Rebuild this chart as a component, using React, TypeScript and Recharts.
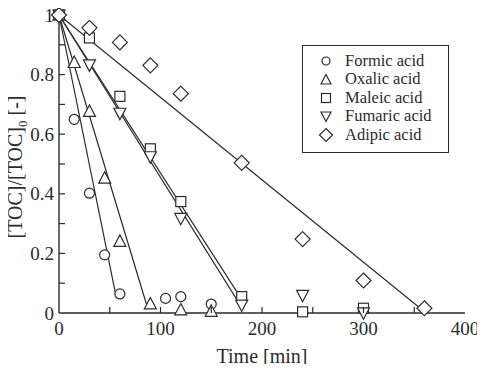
import { Legend, Scatter, ScatterChart, XAxis, YAxis } from 'recharts'

// measured points, time [min] vs TOC/TOC0
const seriesNames = ['Formic acid', 'Oxalic acid', 'Maleic acid', 'Fumaric acid', 'Adipic acid']

const formicTime = [0, 15, 30, 45, 60, 105, 120, 150]
const formicToc = [1, 0.65, 0.402, 0.195, 0.064, 0.049, 0.055, 0.03]

const oxalicTime = [0, 15, 30, 45, 60, 90, 120, 150]
const oxalicToc = [1, 0.84, 0.676, 0.452, 0.24, 0.03, 0.01, 0.005]

const maleicTime = [0, 30, 60, 90, 120, 180, 240, 300]
const maleicToc = [1, 0.923, 0.727, 0.551, 0.374, 0.055, 0.004, 0.016]

const fumaricTime = [0, 30, 60, 90, 120, 180, 240, 300]
const fumaricToc = [1, 0.833, 0.671, 0.525, 0.318, 0.027, 0.06, 0.001]

const adipicTime = [0, 30, 60, 90, 120, 180, 240, 300, 360]
const adipicToc = [1, 0.957, 0.908, 0.831, 0.736, 0.504, 0.248, 0.109, 0.016]

// straight fitted lines (start / end)
const formicFitTime = [0, 56]
const formicFitToc = [1, 0.06]
const oxalicFitTime = [0, 87]
const oxalicFitToc = [1, 0.02]
const maleicFitTime = [0, 183]
const maleicFitToc = [1, 0.03]
const fumaricFitTime = [0, 178]
const fumaricFitToc = [1, 0.03]
const adipicFitTime = [0, 358]
const adipicFitToc = [1, 0.01]

const xTicks = [0, 50, 100, 150, 200, 250, 300, 350, 400]
const yTicks = [0, 0.1, 0.2, 0.3, 0.4, 0.5, 0.6, 0.7, 0.8, 0.9, 1]

const toPoints = (xs: number[], ys: number[]) => xs.map((x, i) => ({ x, y: ys[i] }))

const INK = '#2b2b2b'
const FONT = 'Liberation Serif, Times New Roman, serif'

// marker shapes
const circle = (cx: number, cy: number, s: number) => <circle cx={cx} cy={cy} r={s / 2} fill='#fff' stroke={INK} strokeWidth={1.2} />
const triUp = (cx: number, cy: number, s: number) => (
	<path d={`M${cx},${cy - s * 0.55} L${cx + s / 2},${cy + s * 0.4} L${cx - s / 2},${cy + s * 0.4} Z`} fill='#fff' stroke={INK} strokeWidth={1.2} />
)
const square = (cx: number, cy: number, s: number) => <rect x={cx - s / 2} y={cy - s / 2} width={s} height={s} fill='#fff' stroke={INK} strokeWidth={1.2} />
const triDown = (cx: number, cy: number, s: number) => (
	<path d={`M${cx},${cy + s * 0.55} L${cx + s / 2},${cy - s * 0.4} L${cx - s / 2},${cy - s * 0.4} Z`} fill='#fff' stroke={INK} strokeWidth={1.2} />
)
const diamond = (cx: number, cy: number, s: number) => (
	<path d={`M${cx},${cy - s / 2} L${cx + s / 2},${cy} L${cx},${cy + s / 2} L${cx - s / 2},${cy} Z`} fill='#fff' stroke={INK} strokeWidth={1.2} />
)

const markers = [circle, triUp, square, triDown, diamond]
const plotSizes = [10, 12, 10, 12, 15]
const legendSizes = [8, 10, 9, 10, 13]

const noDot = () => <g />

const XTick = ({ x, y, payload }: any) => {
	const v = payload.value
	return (
		<g>
			{v > 0 && v < 400 && <line x1={x} x2={x} y1={y} y2={y - 6} stroke={INK} strokeWidth={1.2} />}
			{v % 100 === 0 && (
				<text x={x} y={y + 22} textAnchor='middle' fontFamily={FONT} fontSize={19} fill={INK}>
					{v}
				</text>
			)}
		</g>
	)
}

const YTick = ({ x, y, payload }: any) => {
	const v = payload.value
	const major = Math.round(v * 10) % 2 === 0
	const label = v === 0 || v === 1 ? String(v) : v.toFixed(1)
	return (
		<g>
			{v > 0 && v < 1 && <line x1={x} x2={x + 6} y1={y} y2={y} stroke={INK} strokeWidth={1.2} />}
			{major && (
				<text x={x - 5} y={y} dy='0.35em' textAnchor='end' fontFamily={FONT} fontSize={19} fill={INK}>
					{label}
				</text>
			)}
		</g>
	)
}

const XTitle = ({ viewBox }: any) => {
	const vb = viewBox || { x: 59, y: 313, width: 406 }
	return (
		<text x={vb.x + vb.width / 2} y={vb.y + 50} textAnchor='middle' fontFamily={FONT} fontSize={20} fill={INK}>
			Time [min]
		</text>
	)
}

const YTitle = ({ viewBox }: any) => {
	const vb = viewBox || { y: 15, height: 298 }
	const cy = vb.y + vb.height / 2 + 3
	return (
		<text x={22} y={cy} transform={`rotate(-90 22 ${cy})`} textAnchor='middle' fontFamily={FONT} fontSize={20} fill={INK}>
			[TOC]/[TOC]
			<tspan fontSize={13} dy={5}>
				0
			</tspan>
			<tspan dy={-5}> [-]</tspan>
		</text>
	)
}

const LegendBox = () => (
	<div
		style={{
			boxSizing: 'border-box',
			width: 147,
			height: 108,
			border: `1px solid ${INK}`,
			background: '#fff',
			padding: '6px 0 0 15px',
			fontFamily: FONT,
			fontSize: 16.5,
			lineHeight: '18.4px',
			color: INK,
		}}
	>
		{seriesNames.map((name, i) => (
			<div key={name} style={{ display: 'flex', alignItems: 'center', height: 18.4 }}>
				<svg width={16} height={16} style={{ marginRight: 11, flexShrink: 0 }}>
					{markers[i](8, 8, legendSizes[i])}
				</svg>
				<span>{name}</span>
			</div>
		))}
	</div>
)

const measured = [
	toPoints(formicTime, formicToc),
	toPoints(oxalicTime, oxalicToc),
	toPoints(maleicTime, maleicToc),
	toPoints(fumaricTime, fumaricToc),
	toPoints(adipicTime, adipicToc),
]

const fits = [
	toPoints(formicFitTime, formicFitToc),
	toPoints(oxalicFitTime, oxalicFitToc),
	toPoints(maleicFitTime, maleicFitToc),
	toPoints(fumaricFitTime, fumaricFitToc),
	toPoints(adipicFitTime, adipicFitToc),
]

export default function App() {
	return (
		<div style={{ margin: -8, width: 485, height: 372, background: '#fff' }}>
			<ScatterChart width={485} height={372} margin={{ top: 15, right: 20, left: 0, bottom: 0 }}>
				<XAxis
					dataKey='x'
					type='number'
					domain={[0, 400]}
					ticks={xTicks}
					interval={0}
					height={59}
					tickSize={0}
					tickMargin={0}
					tickLine={false}
					tick={XTick}
					axisLine={{ stroke: INK, strokeWidth: 1.4 }}
					label={<XTitle />}
				/>
				<XAxis xAxisId='top' orientation='top' dataKey='x' type='number' domain={[0, 400]} height={0} tick={false} tickLine={false} axisLine={{ stroke: INK, strokeWidth: 1.4 }} />
				<YAxis
					dataKey='y'
					type='number'
					domain={[0, 1]}
					ticks={yTicks}
					interval={0}
					width={59}
					tickSize={0}
					tickMargin={0}
					tickLine={false}
					tick={YTick}
					axisLine={{ stroke: INK, strokeWidth: 1.4 }}
					label={<YTitle />}
				/>
				<YAxis yAxisId='right' orientation='right' dataKey='y' type='number' domain={[0, 1]} width={0} tick={false} tickLine={false} axisLine={{ stroke: INK, strokeWidth: 1.4 }} />
				<Legend verticalAlign='middle' align='center' wrapperStyle={{ left: 302, top: 45, width: 147 }} content={LegendBox} />
				{fits.map((pts, i) => (
					<Scatter
						key={'fit' + i}
						data={pts}
						line={{ stroke: INK, strokeWidth: 1.2 }}
						lineType='joint'
						stroke={INK}
						shape={noDot}
						legendType='none'
						isAnimationActive={false}
					/>
				))}
				{measured.map((pts, i) => (
					<Scatter
						key={seriesNames[i]}
						name={seriesNames[i]}
						data={pts}
						shape={(p: any) => markers[i](p.cx, p.cy, plotSizes[i])}
						isAnimationActive={false}
					/>
				))}
			</ScatterChart>
		</div>
	)
}
